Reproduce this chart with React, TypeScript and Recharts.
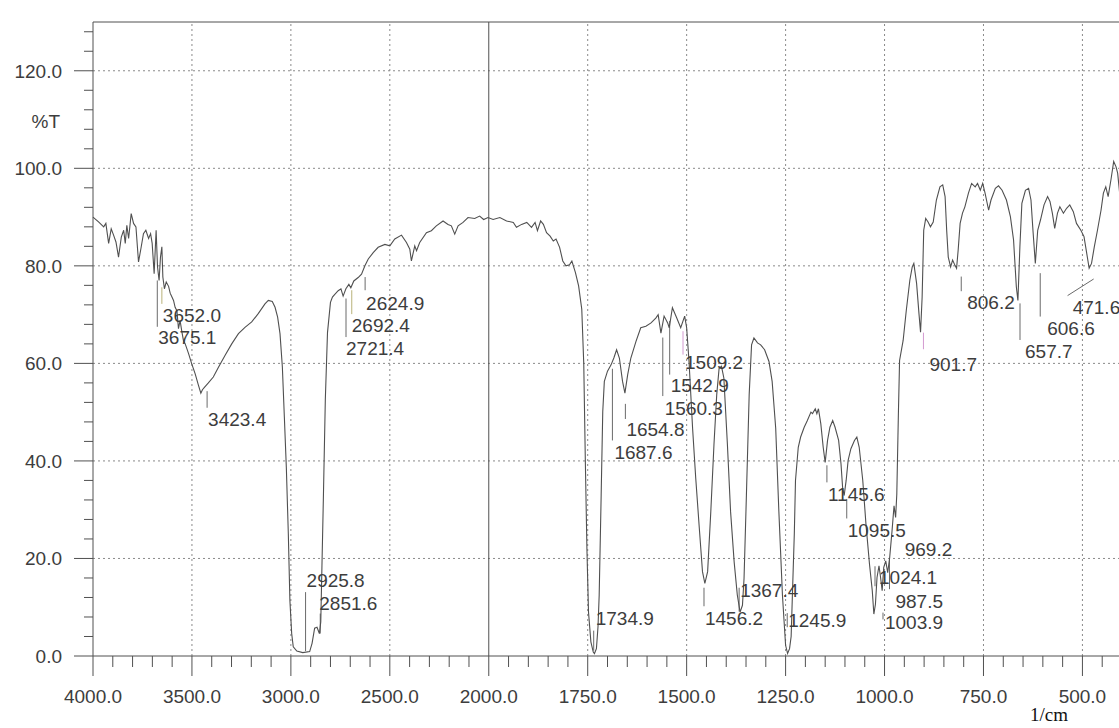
import { LineChart, Line, XAxis, YAxis, ReferenceLine, ReferenceDot } from "recharts";

// IR spectrum, %T vs wavenumber (1/cm). Axis is split: 4000-2000 at half the scale of 2000-400.
const wavenumber = [
  4000, 3972, 3946, 3935, 3921, 3908, 3896, 3884, 3871, 3857, 3845, 3837, 3829, 3820, 3807, 3795,
  3783, 3770, 3758, 3745, 3733, 3719, 3709, 3701, 3691, 3681, 3674, 3666, 3659, 3652, 3647, 3639,
  3630, 3618, 3610, 3601, 3593, 3585, 3576, 3568, 3560, 3551, 3543, 3534, 3517, 3501, 3484, 3467,
  3455, 3447, 3437, 3417, 3392, 3366, 3333, 3299, 3265, 3232, 3198, 3165, 3131, 3114, 3094, 3080,
  3067, 3055, 3043, 3033, 3023, 3013, 3005, 2996, 2988, 2970, 2940, 2905, 2893, 2880, 2868, 2856,
  2849, 2843, 2836, 2826, 2815, 2800, 2790, 2777, 2761, 2747, 2736, 2722, 2707, 2697, 2682, 2660,
  2643, 2626, 2609, 2584, 2559, 2525, 2500, 2475, 2441, 2416, 2399, 2391, 2374, 2365, 2349, 2315,
  2290, 2265, 2231, 2206, 2189, 2172, 2155, 2130, 2105, 2071, 2046, 2026, 2004, 1989, 1972, 1955,
  1938, 1930, 1917, 1904, 1892, 1883, 1877, 1869, 1862, 1854, 1845, 1837, 1830, 1821, 1813, 1805,
  1796, 1790, 1781, 1773, 1765, 1760, 1756, 1752, 1748, 1742, 1736, 1733, 1728, 1724, 1721, 1716,
  1712, 1708, 1700, 1691, 1684, 1677, 1670, 1662, 1656, 1649, 1641, 1628, 1616, 1603, 1590, 1578,
  1572, 1565, 1557, 1548, 1544, 1536, 1525, 1515, 1505, 1500, 1494, 1485, 1477, 1468, 1460, 1454,
  1447, 1439, 1431, 1424, 1418, 1412, 1406, 1397, 1389, 1380, 1372, 1365, 1359, 1355, 1349, 1342,
  1336, 1330, 1321, 1313, 1303, 1292, 1284, 1275, 1267, 1258, 1250, 1245, 1240, 1236, 1233, 1228,
  1225, 1218, 1212, 1203, 1195, 1186, 1182, 1175, 1171, 1167, 1161, 1155, 1150, 1144, 1138, 1131,
  1125, 1116, 1110, 1106, 1102, 1097, 1092, 1085, 1076, 1070, 1064, 1055, 1047, 1038, 1031, 1027,
  1023, 1019, 1014, 1010, 1006, 1002, 997, 992, 987, 981, 976, 972, 969, 965, 962, 953,
  945, 936, 930, 926, 919, 913, 909, 905, 901, 896, 890, 884, 877, 869, 860, 853,
  847, 843, 839, 833, 828, 822, 818, 814, 809, 803, 797, 788, 780, 771, 765, 758,
  752, 746, 737, 731, 720, 712, 703, 692, 682, 674, 667, 663, 658, 653, 644, 636,
  630, 625, 619, 613, 606, 597, 588, 582, 576, 570, 563, 557, 548, 540, 532, 523,
  515, 504, 496, 489, 483, 477, 470, 462, 453, 447, 441, 435, 428, 421, 415, 411,
  405,
];

const transmittance = [
  90.0, 89.0, 88.0, 88.7, 84.6, 87.6, 86.3, 84.9, 81.8, 85.9, 87.3, 84.6, 88.3, 85.6, 90.7, 88.7,
  88.0, 80.8, 83.5, 86.6, 87.3, 85.6, 86.6, 84.6, 78.4, 87.3, 79.8, 77.0, 81.8, 83.9, 77.7, 75.3,
  76.7, 75.8, 74.4, 73.6, 72.9, 71.5, 70.8, 67.1, 68.8, 66.5, 64.7, 64.0, 62.0, 59.9, 57.9, 55.5,
  53.9, 54.6, 55.1, 56.0, 57.2, 59.2, 61.6, 64.0, 66.1, 67.4, 68.5, 70.2, 72.2, 72.9, 72.7, 71.5,
  69.5, 66.1, 59.2, 49.0, 38.7, 25.1, 11.4, 4.6, 1.9, 1.0, 0.7, 0.9, 2.6, 5.7, 5.9, 4.6,
  7.0, 18.5, 32.0, 52.5, 66.3, 72.5, 73.6, 74.2, 74.9, 75.3, 73.8, 75.3, 76.2, 75.5, 76.9, 77.6,
  78.3, 80.0, 81.4, 82.7, 83.8, 84.4, 84.1, 85.5, 86.3, 84.8, 83.4, 81.0, 84.1, 83.1, 84.8, 86.8,
  87.2, 88.2, 89.2, 88.5, 88.2, 86.5, 88.2, 88.9, 89.9, 89.7, 90.2, 89.5, 89.9, 89.5, 89.9, 89.2,
  88.9, 87.9, 88.5, 88.9, 87.9, 88.9, 87.2, 89.2, 88.5, 86.8, 86.1, 85.1, 85.5, 83.8, 81.0, 80.0,
  80.2, 81.0, 78.6, 75.9, 71.1, 60.0, 40.0, 22.0, 9.0, 2.9, 0.8, 0.5, 1.5, 6.0, 12.5, 33.0,
  50.1, 56.3, 58.4, 59.7, 61.1, 62.8, 61.1, 56.3, 53.9, 57.7, 61.1, 64.5, 67.3, 67.6, 68.3, 69.3,
  70.0, 66.2, 69.7, 68.3, 67.3, 71.4, 69.3, 67.3, 69.7, 67.3, 60.4, 46.7, 36.4, 26.2, 17.3, 14.9,
  17.3, 29.6, 43.3, 53.6, 59.0, 59.4, 57.0, 43.3, 29.6, 19.3, 12.5, 9.0, 10.4, 15.9, 33.0, 53.6,
  63.8, 65.2, 64.2, 63.8, 62.8, 60.4, 56.3, 46.7, 29.6, 12.5, 2.2, 0.5, 1.5, 4.0, 12.0, 25.0,
  36.0, 42.8, 44.9, 46.9, 48.3, 50.0, 49.7, 50.7, 49.7, 50.7, 47.6, 42.8, 39.7, 44.2, 46.9, 48.3,
  46.9, 44.2, 39.4, 34.6, 32.9, 36.0, 40.1, 42.5, 44.2, 44.9, 42.8, 36.0, 27.1, 18.8, 13.4, 8.6,
  10.6, 16.1, 18.5, 16.1, 13.4, 18.2, 19.5, 17.1, 20.2, 25.7, 30.8, 28.4, 33.2, 49.7, 60.6, 64.7,
  70.9, 77.1, 79.8, 80.5, 76.4, 70.2, 66.4, 73.6, 87.3, 89.7, 89.0, 88.0, 89.0, 93.5, 96.2, 96.6,
  94.2, 87.3, 81.8, 79.8, 81.2, 80.1, 79.5, 83.2, 88.7, 90.8, 92.1, 94.9, 96.9, 96.2, 96.9, 95.5,
  96.9, 94.9, 91.4, 93.5, 95.9, 96.4, 95.5, 93.5, 90.1, 85.3, 75.7, 72.9, 83.9, 92.8, 95.5, 95.9,
  93.5, 87.3, 80.5, 87.3, 89.4, 92.5, 94.2, 93.2, 90.8, 87.7, 90.8, 92.1, 90.8, 91.8, 92.5, 91.1,
  88.7, 87.3, 86.0, 82.5, 79.5, 80.5, 83.9, 87.3, 91.4, 94.9, 96.2, 94.2, 97.6, 101.4, 100.3, 99.0,
  94.2,
];

const majorTicks = [4000, 3500, 3000, 2500, 2000, 1750, 1500, 1250, 1000, 750, 500];
const gridWavenumbers = [3500, 3000, 2500, 1750, 1500, 1250, 1000, 750, 500];
const gridT = [20, 40, 60, 80, 100, 120];

// peak annotations: label, marker top/bottom (%T), label baseline (%T)
const peakLabels = [
  "3675.1", "3652.0", "3423.4", "2925.8", "2851.6", "2721.4", "2692.4", "2624.9",
  "1734.9", "1687.6", "1654.8", "1560.3", "1542.9", "1509.2", "1456.2", "1367.4",
  "1245.9", "1145.6", "1095.5", "969.2", "1024.1", "987.5", "1003.9", "901.7",
  "806.2", "657.7", "606.6", "471.6",
];
const peakMarkTop = [
  77.0, 75.6, 54.3, 13.1, 8.7, 73.3, 75.0, 77.7,
  5.2, 58.9, 51.7, 65.3, 68.7, 66.6, 14.0, 14.0,
  8.8, 39.1, 32.2, null, 18.4, 19.9, 8.9, 66.3,
  77.8, 72.3, 78.5, 77.3,
];
const peakMarkBottom = [
  67.5, 72.2, 50.9, 1.0, 4.6, 65.4, 70.1, 75.0,
  1.1, 44.2, 48.6, 53.3, 57.7, 61.8, 10.2, 9.1,
  5.9, 35.6, 28.2, null, 14.3, 13.7, 7.5, 62.9,
  74.8, 64.8, 69.6, 73.9,
];
const peakLabelT = [
  64.0, 68.4, 47.1, 14.2, 9.5, 61.8, 66.4, 70.9,
  6.4, 40.4, 45.1, 49.5, 54.1, 58.8, 6.4, 12.2,
  5.9, 31.7, 24.5, 20.6, 14.7, 9.9, 5.6, 58.4,
  71.1, 61.2, 65.8, 70.2,
];

// layout of the annotation text relative to the marker (px) and marker tint
const labelDx = [1, 1, 1, 1, -1, 0, 0, 1, 2, 2, 1, 2, 1, 2, 1, 1, 1, 1, 1, 8, 4, 6, 2, 6, 6, 5, 7, -21];
const markTint: Record<string, string> = {
  "3652.0": "#b9b27a",
  "2692.4": "#b9b27a",
  "1509.2": "#d39ad0",
  "901.7": "#d39ad0",
};

const ink = "#3d3d3d";
const curve = "#505050";
const gridColor = "#8a8a8a";
const font = "'Liberation Sans', Arial, sans-serif";

function toU(w: number) {
  return w >= 2000 ? (4000 - w) / 500 : 4 + (2000 - w) / 250;
}
function fromU(u: number) {
  return u <= 4 ? 4000 - u * 500 : 2000 - (u - 4) * 250;
}

const data = wavenumber.map((w, i) => ({ u: toU(w), t: transmittance[i] }));

const xTicks: number[] = [];
for (let w = 4000; w >= 2000; w -= 100) xTicks.push(toU(w));
for (let w = 1950; w >= 450; w -= 50) xTicks.push(toU(w));
const yTicks: number[] = [];
for (let v = 0; v <= 128; v += 4) yTicks.push(v);

function XTick(props: any) {
  const { x, y, payload } = props;
  const w = fromU(payload.value);
  const major = majorTicks.some((m) => Math.abs(m - w) < 0.5);
  return (
    <g>
      <line x1={x} x2={x} y1={y} y2={y + (major ? 20 : 11)} stroke={curve} strokeWidth={1} />
      {major && (
        <text x={x} y={y + 47} textAnchor="middle" fontSize={19} fontFamily={font} fill={ink}>
          {w.toFixed(1)}
        </text>
      )}
    </g>
  );
}

function YTick(props: any) {
  const { x, y, payload } = props;
  const v = payload.value as number;
  const major = v % 20 === 0;
  return (
    <g>
      <line x1={x - (major ? 19 : 9)} x2={x} y1={y} y2={y} stroke={curve} strokeWidth={1} />
      {major && (
        <text x={x - 31} y={y} dy="0.36em" textAnchor="end" fontSize={19} fontFamily={font} fill={ink}>
          {v.toFixed(1)}
        </text>
      )}
    </g>
  );
}

export default function App() {
  return (
    <div style={{ position: "absolute", left: 0, top: 0, width: 1119, height: 728, overflow: "hidden", background: "#fff" }}>
      <LineChart width={1122} height={728} data={data} margin={{ top: 22, right: 0, bottom: 0, left: 0 }}>
        <XAxis
          type="number"
          dataKey="u"
          domain={[0, 10.4]}
          ticks={xTicks}
          interval={0}
          tickSize={0}
          tickMargin={0}
          tick={<XTick />}
          axisLine={{ stroke: curve, strokeWidth: 1 }}
          height={72}
        />
        <YAxis
          type="number"
          domain={[0, 130]}
          ticks={yTicks}
          interval={0}
          tickSize={0}
          tickMargin={0}
          tick={<YTick />}
          axisLine={{ stroke: curve, strokeWidth: 1 }}
          width={93}
        />
        {gridT.map((t) => (
          <ReferenceLine key={`h${t}`} y={t} stroke={gridColor} strokeDasharray="2 3" />
        ))}
        {gridWavenumbers.map((w) => (
          <ReferenceLine key={`v${w}`} x={toU(w)} stroke={gridColor} strokeDasharray="2 3" />
        ))}
        <ReferenceLine x={toU(2000)} stroke={curve} />
        <ReferenceLine y={130} stroke={curve} />
        {peakLabels.map((lab, i) => {
          const top = peakMarkTop[i];
          const bottom = peakMarkBottom[i];
          if (top == null || bottom == null) return null;
          const w = parseFloat(lab);
          // the 471.6 marker is drawn as a slanted leader
          const x2 = lab === "471.6" ? toU(537.5) : toU(w);
          return (
            <ReferenceLine
              key={`m${lab}`}
              segment={[
                { x: toU(w), y: top },
                { x: x2, y: bottom },
              ]}
              stroke={markTint[lab] ?? "#6a6a6a"}
              strokeWidth={1}
            />
          );
        })}
        <Line
          type="linear"
          dataKey="t"
          stroke={curve}
          strokeWidth={1.1}
          dot={false}
          isAnimationActive={false}
        />
        {peakLabels.map((lab, i) => (
          <ReferenceDot
            key={`l${lab}`}
            x={toU(parseFloat(lab))}
            y={peakLabelT[i]}
            r={0}
            ifOverflow="visible"
            shape={(p: any) => (
              <text x={p.cx + labelDx[i]} y={p.cy} fontSize={19} fontFamily={font} fill={ink}>
                {lab}
              </text>
            )}
          />
        ))}
      </LineChart>
      <svg width={1119} height={728} style={{ position: "absolute", left: 0, top: 0, pointerEvents: "none" }}>
        <text x={60} y={127.5} textAnchor="end" fontSize={19} fontFamily={font} fill={ink}>
          %T
        </text>
        <text x={1030} y={721} fontSize={19} fontFamily="'Liberation Serif', 'Times New Roman', serif" fill="#111">
          1/cm
        </text>
      </svg>
    </div>
  );
}
